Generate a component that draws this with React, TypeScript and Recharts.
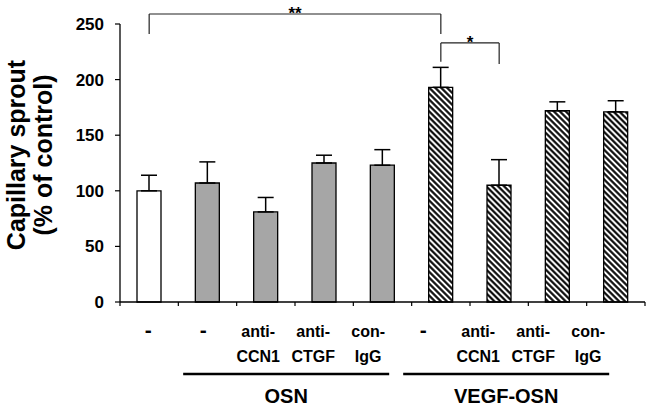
import { Bar, BarChart, Cell, ErrorBar, ReferenceLine, XAxis, YAxis } from "recharts";

const conditions = ["ctrl", "osn", "osn-ccn1", "osn-ctgf", "osn-igg", "vegf", "vegf-ccn1", "vegf-ctgf", "vegf-igg"];
const labelTop = ["-", "-", "anti-", "anti-", "con-", "-", "anti-", "anti-", "con-"];
const labelBottom = ["", "", "CCN1", "CTGF", "IgG", "", "CCN1", "CTGF", "IgG"];
const means = [100, 107, 81, 125, 123, 193, 105, 172, 171];
const sems = [14, 19, 13, 7, 14, 18, 23, 8, 10];
const treatment = ["none", "osn", "osn", "osn", "osn", "vegf", "vegf", "vegf", "vegf"];
const yTicks = [0, 50, 100, 150, 200, 250];

const groups = [
  { name: "OSN", from: 1, to: 4 },
  { name: "VEGF-OSN", from: 5, to: 8 },
];

const brackets = [
  { from: "ctrl", to: "vegf", top: 259, legFrom: 241, legTo: 241, mark: "**" },
  { from: "vegf", to: "vegf-ccn1", top: 233, legFrom: 216, legTo: 214, mark: "*" },
];

const data = conditions.map((id, i) => ({ id, mean: means[i], err: [0, sems[i]] }));

const FONT = "'Liberation Sans', Arial, Helvetica, sans-serif";
const W = 649;
const H = 407;
const M = { top: 24, right: 4, bottom: 5, left: 0 };
const Y_W = 120;
const X_H = 100;
const BAND = (W - M.left - M.right - Y_W) / conditions.length;

const fillFor = (t: string) => (t === "none" ? "#ffffff" : t === "osn" ? "#a6a6a6" : "url(#hatch)");

// labels in the original drift a bit to the left of the bars
const labelX = (x: number, i: number) => x - 1 - 3.33 * i;

function CategoryTick(props: any) {
  const { x, y, payload } = props;
  const i = payload.index ?? props.index;
  const lx = labelX(x, i);
  const txt = { fontFamily: FONT, fontWeight: 700, fontSize: 16, fill: "#000", textAnchor: "middle" as const };
  const g = groups.find((gr) => gr.from === i);
  const top = labelTop[i];
  return (
    <g>
      <line x1={x - BAND / 2} x2={x - BAND / 2} y1={y} y2={y + 4} stroke="#000" strokeWidth={1.2} />
      {i === conditions.length - 1 && (
        <line x1={x + BAND / 2} x2={x + BAND / 2} y1={y} y2={y + 4} stroke="#000" strokeWidth={1.2} />
      )}
      <text x={lx} y={y + 35} {...txt} fontSize={top === "-" ? 21 : 16}>{top}</text>
      {labelBottom[i] && <text x={lx} y={y + 60} {...txt}>{labelBottom[i]}</text>}
      {g && (() => {
        const x0 = lx - 20;
        const x1 = labelX(x + (g.to - g.from) * BAND, g.to) + 21;
        return (
          <g>
            <line x1={x0} x2={x1} y1={y + 72} y2={y + 72} stroke="#000" strokeWidth={2.5} />
            <text x={(x0 + x1) / 2} y={y + 101} {...txt} fontSize={20}>{g.name}</text>
          </g>
        );
      })()}
    </g>
  );
}

const renderYLabel = () => (
  <text transform="rotate(-90)" textAnchor="middle" fontFamily={FONT} fontWeight={700} fontSize={25} fill="#000">
    <tspan x={-155} y={25}>Capillary sprout</tspan>
    <tspan x={-155} y={52}>(% of control)</tspan>
  </text>
);

export default function App() {
  return (
    <div style={{ position: "absolute", left: 0, top: 0, width: W, height: H, background: "#fff" }}>
      <BarChart width={W} height={H} data={data} margin={M}>
        <defs>
          <pattern id="hatch" patternUnits="userSpaceOnUse" width={4.2} height={4.2} patternTransform="rotate(-45)">
            <rect width={4.2} height={4.2} fill="#fff" />
            <line x1={2.1} y1={0} x2={2.1} y2={4.2} stroke="#000" strokeWidth={2.1} />
          </pattern>
        </defs>
        <XAxis
          dataKey="id"
          interval={0}
          height={X_H}
          tickLine={false}
          tickSize={0}
          tickMargin={0}
          axisLine={{ stroke: "#000", strokeWidth: 1.3 }}
          tick={<CategoryTick />}
        />
        <YAxis
          domain={[0, 250]}
          ticks={yTicks}
          width={Y_W}
          tickSize={5}
          tickMargin={11}
          axisLine={{ stroke: "#000", strokeWidth: 1.3 }}
          tickLine={{ stroke: "#000", strokeWidth: 1.2 }}
          tick={{ fill: "#000", fontFamily: FONT, fontWeight: 700, fontSize: 17 }}
          label={renderYLabel}
        />
        <Bar dataKey="mean" barSize={24} stroke="#000" strokeWidth={1.3} isAnimationActive={false}>
          {data.map((d, i) => (
            <Cell key={d.id} fill={fillFor(treatment[i])} />
          ))}
          <ErrorBar dataKey="err" direction="y" width={8} stroke="#000" strokeWidth={1.5} isAnimationActive={false} />
        </Bar>
        {brackets.map((b) => [
          <ReferenceLine
            key={b.from + b.to + "h"}
            ifOverflow="visible"
            segment={[{ x: b.from, y: b.top }, { x: b.to, y: b.top }]}
            stroke="#222"
            strokeWidth={1.2}
            label={{ value: b.mark, position: "top", offset: -5, fill: "#000", fontSize: 17, fontWeight: 700, fontFamily: FONT }}
          />,
          <ReferenceLine
            key={b.from + b.to + "l"}
            ifOverflow="visible"
            segment={[{ x: b.from, y: b.legFrom }, { x: b.from, y: b.top }]}
            stroke="#222"
            strokeWidth={1.2}
          />,
          <ReferenceLine
            key={b.from + b.to + "r"}
            ifOverflow="visible"
            segment={[{ x: b.to, y: b.legTo }, { x: b.to, y: b.top }]}
            stroke="#222"
            strokeWidth={1.2}
          />,
        ])}
      </BarChart>
    </div>
  );
}
